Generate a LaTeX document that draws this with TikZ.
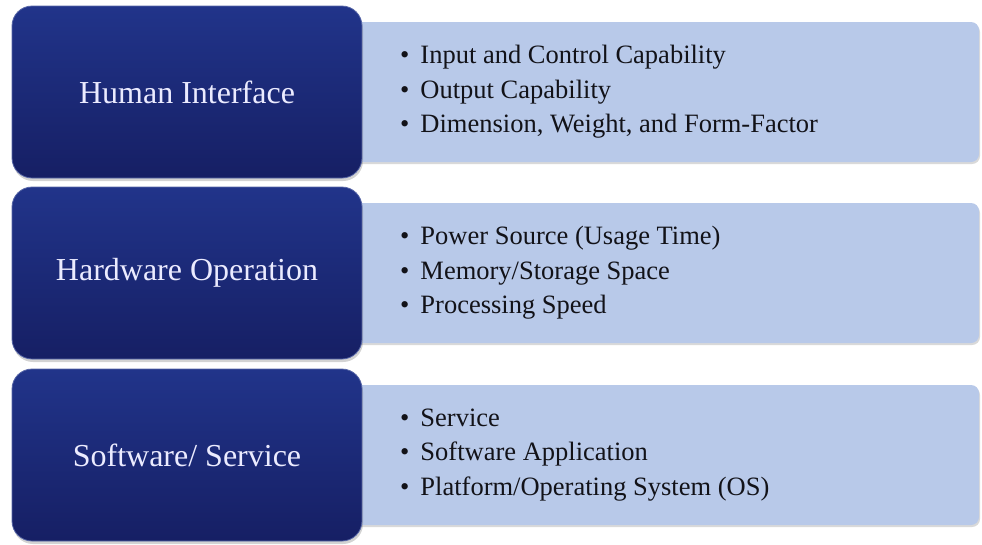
\documentclass[tikz,border=0pt]{standalone}
\usepackage{fontspec}
\setmainfont{Liberation Serif}
\usetikzlibrary{shadows,shapes,positioning,backgrounds}

\definecolor{navybox}{RGB}{22,31,100}
\definecolor{navytop}{RGB}{33,52,138}
\definecolor{paleblue}{RGB}{184,201,233}
\definecolor{itemink}{RGB}{18,18,24}

\newcommand{\itm}{\textbullet\hspace{11pt}}

\tikzset{
  catbox/.style={rectangle, rounded corners=20pt, minimum width=350pt, minimum height=172pt,
    top color=navytop, bottom color=navybox, draw=navytop!75!white, line width=0.8pt,
    drop shadow={opacity=0.35, shadow xshift=1pt, shadow yshift=-3pt},
    text=white!92!blue, font=\fontsize{32}{36}\selectfont},
  listbox/.style={rectangle, rounded corners=8pt, minimum width=640pt, minimum height=140pt,
    fill=paleblue, drop shadow={opacity=0.3, shadow xshift=1pt, shadow yshift=-2pt}},
  itemtext/.style={anchor=west, align=left, text=itemink, inner sep=0pt,
    font=\fontsize{26.5}{34.5}\selectfont}
}

\begin{document}
\begin{tikzpicture}[x=1pt, y=-1pt]
  \useasboundingbox (0,0) rectangle (982,544);

  \node[listbox] (humanlist) at (659,92) {};
  \node[listbox] (hwlist) at (659,273) {};
  \node[listbox] (swlist) at (659,455) {};

  \node[catbox] (human) at (187,92) {Human Interface};
  \node[catbox] (hw) at (187,273) {Hardware Operation};
  \node[catbox] (sw) at (187,455) {Software/ Service};

  \node[itemtext] (humanitems) at (400,92) {\itm Input and Control Capability\\
    \itm Output Capability\\
    \itm Dimension, Weight, and Form-Factor};
  \node[itemtext] (hwitems) at (400,273) {\itm Power Source (Usage Time)\\
    \itm Memory/Storage Space\\
    \itm Processing Speed};
  \node[itemtext] (switems) at (400,455) {\itm Service\\
    \itm Software Application\\
    \itm Platform/Operating System (OS)};
\end{tikzpicture}
\end{document}
